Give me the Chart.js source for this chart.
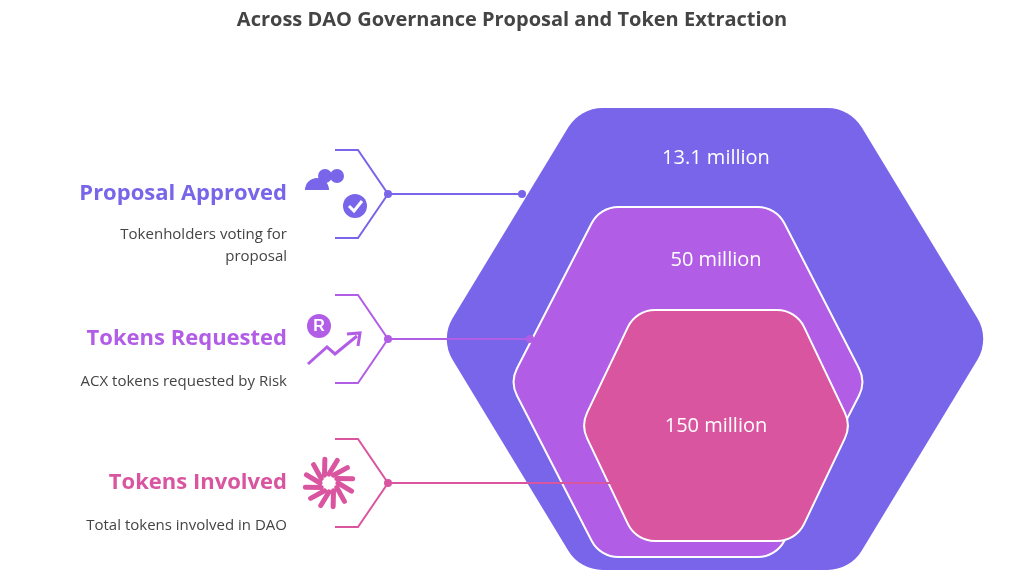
<!DOCTYPE html>
<html><head><meta charset="utf-8">
<script src="https://cdn.jsdelivr.net/npm/chart.js@4"></script>
<style>html,body{margin:0;background:#fff}#w{width:1024px;height:576px}</style>
</head><body><div id="w"><canvas id="c"></canvas></div>
<script>
const titleText = 'Across DAO Governance Proposal and Token Extraction';
const categories = ['Proposal Approved','Tokens Requested','Tokens Involved'];
const descriptions = [['Tokenholders voting for','proposal'],['ACX tokens requested by Risk'],['Total tokens involved in DAO']];
const valueLabels = ['13.1 million','50 million','150 million'];
const values = [13.1, 50, 150];
const colors = ['#7865e9','#b25de6','#da559f'];

function roundedPoly(ctx, pts, r){
  ctx.beginPath();
  const n=pts.length;
  const m0=[(pts[0][0]+pts[1][0])/2,(pts[0][1]+pts[1][1])/2];
  ctx.moveTo(m0[0],m0[1]);
  for(let i=1;i<=n;i++){
    const p=pts[i%n], q=pts[(i+1)%n];
    ctx.arcTo(p[0],p[1],q[0],q[1],r);
  }
  ctx.closePath();
}
function hex(cx,top,bot,halfTop,halfMid){
  const my=(top+bot)/2;
  return [[cx-halfTop,top],[cx+halfTop,top],[cx+halfMid,my],[cx+halfTop,bot],[cx-halfTop,bot],[cx-halfMid,my]];
}
const hexes=[hex(715,108,570,135,275),hex(688,207,557,88,178),hex(716,310,541,80,135)];
const valueY=[158,260,426];
const rowY=[194,339,483];
const lineEnd=[522,530,615];

const infographic={id:'info',afterDraw(chart){
  const ctx=chart.ctx;
  ctx.save();
  ctx.fillStyle='#444';ctx.font='bold 20px "Open Sans",Roboto,sans-serif';ctx.textAlign='center';ctx.textBaseline='middle';
  ctx.fillText(titleText,512,20);
  hexes.forEach((h,i)=>{
    roundedPoly(ctx,h,i==0?40:30);
    ctx.fillStyle=colors[i];ctx.fill();
    if(i>0){ctx.strokeStyle='#fff';ctx.lineWidth=2;ctx.stroke();}
  });
  ctx.fillStyle='#fff';ctx.font='20px "Open Sans",Roboto,sans-serif';
  valueLabels.forEach((t,i)=>ctx.fillText(t,716,valueY[i]));
  categories.forEach((c,i)=>{
    const y=rowY[i];
    ctx.fillStyle=colors[i];ctx.textAlign='right';ctx.font='bold 22px "Open Sans",Roboto,sans-serif';
    ctx.fillText(c,287,y);
    ctx.fillStyle='#444';ctx.font='15px "Open Sans",Roboto,sans-serif';
    descriptions[i].forEach((d,k)=>ctx.fillText(d,287,y+(descriptions[i].length>1?41:43)+k*22));
    ctx.strokeStyle=colors[i];ctx.lineWidth=2;
    ctx.beginPath();ctx.moveTo(335,y-44);ctx.lineTo(358,y-44);ctx.lineTo(388,y);ctx.lineTo(358,y+44);ctx.lineTo(335,y+44);ctx.stroke();
    ctx.beginPath();ctx.moveTo(388,y);ctx.lineTo(lineEnd[i],y);ctx.stroke();
    ctx.fillStyle=colors[i];
    [388,lineEnd[i]].forEach(x=>{ctx.beginPath();ctx.arc(x,y,4,0,7);ctx.fill();});
    // icons
    const ix=335,iy=y;
    if(i==0){
      ctx.beginPath();ctx.arc(ix-10,iy-18,7,0,7);ctx.fill();
      ctx.beginPath();ctx.arc(ix-18,iy-4,12,Math.PI,0);ctx.fill();
      ctx.beginPath();ctx.arc(ix+2,iy-18,7,0,7);ctx.fill();
      ctx.beginPath();ctx.arc(ix+20,iy+12,12,0,7);ctx.fill();
      ctx.strokeStyle='#fff';ctx.lineWidth=3;ctx.beginPath();ctx.moveTo(ix+14,iy+12);ctx.lineTo(ix+19,iy+17);ctx.lineTo(ix+27,iy+7);ctx.stroke();
    } else if(i==1){
      ctx.beginPath();ctx.arc(ix-16,iy-13,12,0,7);ctx.fill();
      ctx.fillStyle='#fff';ctx.font='bold 16px sans-serif';ctx.textAlign='center';ctx.fillText('R',ix-16,iy-12);
      ctx.lineWidth=3;ctx.beginPath();ctx.moveTo(ix-27,iy+25);ctx.lineTo(ix-8,iy+8);ctx.lineTo(ix,iy+15);ctx.lineTo(ix+22,iy-3);ctx.stroke();
      ctx.beginPath();ctx.moveTo(ix+12,iy-5);ctx.lineTo(ix+25,iy-6);ctx.lineTo(ix+23,iy+7);ctx.stroke();
    } else {
      ctx.lineWidth=5;ctx.lineCap='round';
      for(let a=0;a<12;a++){const t=a*Math.PI/6;ctx.beginPath();ctx.moveTo(ix-6+Math.cos(t)*9,iy+Math.sin(t)*9);ctx.lineTo(ix-6+Math.cos(t+0.35)*24,iy+Math.sin(t+0.35)*24);ctx.stroke();}
      ctx.lineCap='butt';
    }
  });
  ctx.restore();
}};
new Chart(document.getElementById('c'),{
  type:'scatter',
  data:{datasets:[{data:values.map((v,i)=>({x:i,y:v})),pointRadius:0,showLine:false}]},
  options:{responsive:true,maintainAspectRatio:false,animation:false,
    plugins:{legend:{display:false},tooltip:{enabled:false}},
    scales:{x:{display:false},y:{display:false}}},
  plugins:[infographic]
});
</script></body></html>
